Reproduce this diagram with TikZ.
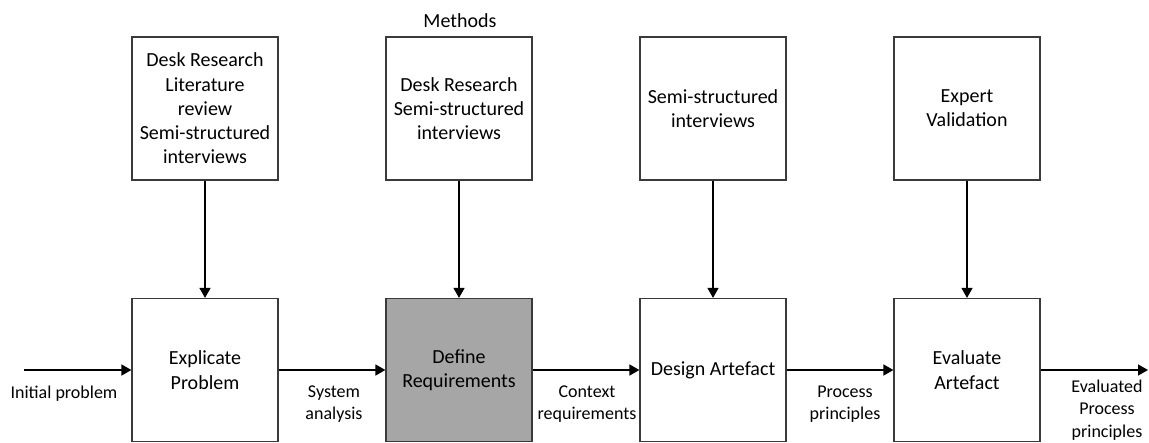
\documentclass[tikz,border=0pt]{standalone}
\usepackage{fontspec}
\setmainfont{Carlito}
\usetikzlibrary{arrows.meta}
\definecolor{stepgray}{HTML}{A6A6A6}
\definecolor{edgegray}{HTML}{3A3A3A}
\tikzset{
  stagebox/.style={draw=edgegray, line width=1.2pt, minimum width=146pt, minimum height=143pt,
    inner sep=0pt, align=center, font=\fontsize{20}{24.3}\selectfont},
  lbl/.style={align=center, inner sep=0pt, font=\fontsize{18}{22.5}\selectfont},
  flow/.style={line width=1.5pt, -{Triangle[length=10pt,width=11pt]}}
}
\begin{document}
\begin{tikzpicture}[x=1pt,y=-1pt]
\useasboundingbox (0,0) rectangle (1149,442);

% method boxes
\node[stagebox] (m1) at (205,108.5) {Desk Research\\Literature\\review\\Semi-structured\\interviews};
\node[stagebox] (m2) at (459,108.5) {Desk Research\\Semi-structured\\interviews};
\node[stagebox] (m3) at (713,108.5) {Semi-structured\\interviews};
\node[stagebox] (m4) at (967,108.5) {Expert\\Validation};
\node[lbl, font=\fontsize{20}{24}\selectfont] (methods) at (460,21) {Methods};

% process steps
\node[stagebox] (s1) at (205,370) {Explicate\\Problem};
\node[stagebox, fill=stepgray] (s2) at (459,370) {Define\\Requirements};
\node[stagebox] (s3) at (713,370) {Design Artefact};
\node[stagebox] (s4) at (967,370) {Evaluate\\Artefact};

% flow ends
\coordinate (in) at (24,370);
\coordinate (out) at (1148,370);

% methods feed the steps
\foreach \i in {1,...,4} \draw[flow] (m\i.south) -- (s\i.north);

% main flow
\draw[flow] (in) -- (s1.west);
\draw[flow] (s1.east) -- (s2.west);
\draw[flow] (s2.east) -- (s3.west);
\draw[flow] (s3.east) -- (s4.west);
\draw[flow] (s4.east) -- (out);

% flow labels
\node[lbl] (l0) at (64,394) {Initial problem};
\node[lbl] (l1) at (334,404) {System\\analysis};
\node[lbl] (l2) at (587,404) {Context\\requirements};
\node[lbl] (l3) at (845,404) {Process\\principles};
\node[lbl] (l4) at (1107,410) {Evaluated\\Process\\principles};
\end{tikzpicture}
\end{document}
